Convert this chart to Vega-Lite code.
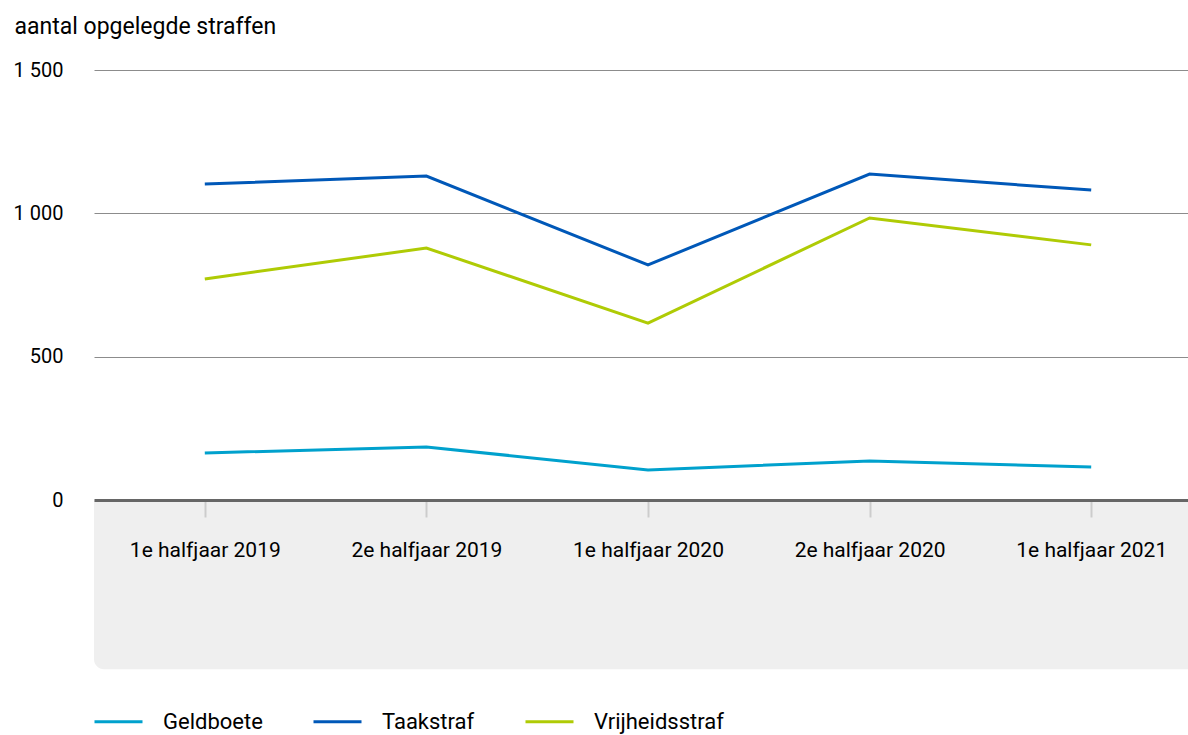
{
  "$schema": "https://vega.github.io/schema/vega-lite/v6.json",
  "width": 1108,
  "height": 430,
  "autosize": {"type": "none"},
  "padding": {"left": 94, "top": 70, "right": 0, "bottom": 235},
  "background": "white",
  "config": {
    "view": {"stroke": null},
    "font": "Roboto",
    "text": {"font": "Roboto"}
  },
  "datasets": {
    "straffen": [
      {"periode": "1e halfjaar 2019", "soort": "Geldboete", "aantal": 164},
      {"periode": "2e halfjaar 2019", "soort": "Geldboete", "aantal": 185},
      {"periode": "1e halfjaar 2020", "soort": "Geldboete", "aantal": 105},
      {"periode": "2e halfjaar 2020", "soort": "Geldboete", "aantal": 136},
      {"periode": "1e halfjaar 2021", "soort": "Geldboete", "aantal": 115},
      {"periode": "1e halfjaar 2019", "soort": "Taakstraf", "aantal": 1102},
      {"periode": "2e halfjaar 2019", "soort": "Taakstraf", "aantal": 1130},
      {"periode": "1e halfjaar 2020", "soort": "Taakstraf", "aantal": 820},
      {"periode": "2e halfjaar 2020", "soort": "Taakstraf", "aantal": 1137},
      {"periode": "1e halfjaar 2021", "soort": "Taakstraf", "aantal": 1081},
      {"periode": "1e halfjaar 2019", "soort": "Vrijheidsstraf", "aantal": 771},
      {"periode": "2e halfjaar 2019", "soort": "Vrijheidsstraf", "aantal": 879},
      {"periode": "1e halfjaar 2020", "soort": "Vrijheidsstraf", "aantal": 617},
      {"periode": "2e halfjaar 2020", "soort": "Vrijheidsstraf", "aantal": 984},
      {"periode": "1e halfjaar 2021", "soort": "Vrijheidsstraf", "aantal": 890}
    ]
  },
  "layer": [
    {
      "data": {"values": [{"vlak": "onder"}]},
      "mark": {"type": "rect", "color": "#efefef", "cornerRadiusBottomLeft": 10, "clip": false},
      "encoding": {
        "y": {"datum": 0, "type": "quantitative", "scale": {"domain": [0, 1500], "nice": false, "zero": false}},
        "y2": {"datum": -590}
      }
    },
    {
      "data": {"name": "straffen"},
      "mark": {"type": "line", "strokeWidth": 3, "interpolate": "linear"},
      "encoding": {
        "x": {
          "field": "periode",
          "type": "ordinal",
          "sort": ["1e halfjaar 2019", "2e halfjaar 2019", "1e halfjaar 2020", "2e halfjaar 2020", "1e halfjaar 2021"],
          "scale": {"type": "point", "padding": 0.5},
          "axis": {
            "title": null,
            "zindex": 1,
            "domain": true,
            "domainColor": "#666666",
            "domainWidth": 3,
            "ticks": true,
            "tickColor": "#cccccc",
            "tickWidth": 2,
            "tickSize": 17,
            "labelPadding": 22,
            "labelFontSize": 21,
            "labelColor": "#000000",
            "labelAngle": 0,
            "grid": false
          }
        },
        "y": {
          "field": "aantal",
          "type": "quantitative",
          "scale": {"domain": [0, 1500], "nice": false, "zero": false},
          "axis": {
            "values": [0, 500, 1000, 1500],
            "labelExpr": "replace(format(datum.value, ','), ',', ' ')",
            "domain": false,
            "ticks": false,
            "labelPadding": 31,
            "labelFontSize": 20,
            "labelColor": "#000000",
            "labelBaseline": "middle",
            "grid": true,
            "gridColor": "#8c8c8c",
            "gridWidth": 1,
            "title": "aantal opgelegde straffen",
            "titleAngle": 0,
            "titleAlign": "left",
            "titleBaseline": "middle",
            "titleX": -80,
            "titleY": -44,
            "titleFontSize": 23,
            "titleFontWeight": "normal",
            "titleColor": "#000000"
          }
        },
        "color": {
          "field": "soort",
          "type": "nominal",
          "scale": {
            "domain": ["Geldboete", "Taakstraf", "Vrijheidsstraf"],
            "range": ["#00a1cd", "#0058b8", "#afcb05"]
          },
          "legend": {
            "title": null,
            "orient": "none",
            "legendX": -1,
            "legendY": 626,
            "direction": "horizontal",
            "symbolType": "stroke",
            "symbolSize": 2304,
            "symbolStrokeWidth": 3,
            "labelOffset": 19,
            "columnPadding": 44,
            "labelFontSize": 22,
            "labelColor": "#000000"
          }
        }
      }
    }
  ]
}
